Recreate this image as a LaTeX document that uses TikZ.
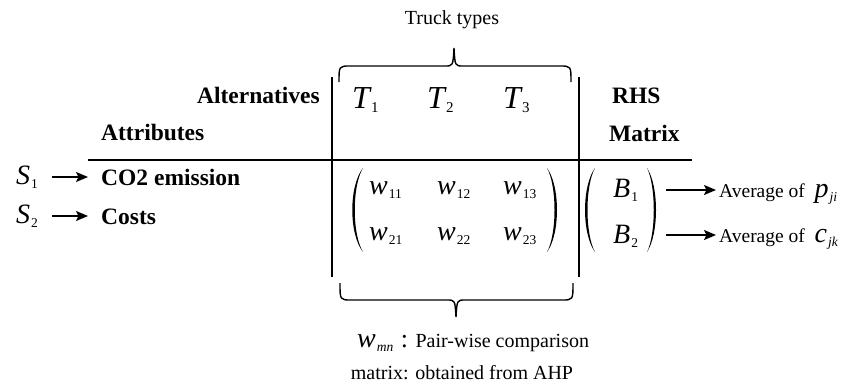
\documentclass[tikz,border=0pt]{standalone}
\usepackage{fontspec}
\setmainfont{Liberation Serif}
\usetikzlibrary{arrows.meta}
\newcommand{\fs}[1]{\fontsize{#1}{#1}\selectfont}
\newcommand{\mv}[2]{{\fs{28}\itshape #1}\kern1pt\raisebox{-4pt}{\fs{13.5}#2}}
\newcommand{\mT}[2]{{\fs{32}\itshape #1}\kern1pt\raisebox{-4pt}{\fs{15}#2}}
\begin{document}
\begin{tikzpicture}[x=1pt,y=-1pt,
  txt/.style={inner sep=0pt,font=\fs{20}},
  hd/.style={inner sep=0pt,font=\fs{23.5}\bfseries},
  mth/.style={inner sep=0pt},
  rule/.style={line width=1.8pt},
  arr/.style={line width=1.5pt,-{Stealth[length=12pt,width=10pt,inset=2.5pt]}},
  brc/.style={line width=1.4pt},
  par/.style={fill=black}]
\useasboundingbox (0,0) rectangle (862,391);
% header texts
\node[txt] (truck) at (452,20) {Truck types};
\node[hd,anchor=base east] (alt) at (320,103) {Alternatives};
\node[hd,anchor=base west] (attr) at (101,140) {Attributes};
\node[hd,anchor=base west] (rhs) at (612,103) {RHS};
\node[hd,anchor=base west] (mat) at (609,141) {Matrix};
\node[mth,anchor=base west] (t1) at (352,108) {\mT{T}{1}};
\node[mth,anchor=base west] (t2) at (427,108) {\mT{T}{2}};
\node[mth,anchor=base west] (t3) at (503,108) {\mT{T}{3}};
% rules
\draw[rule] (88,160) -- (692,160);
\draw[rule] (332,77) -- (332,277);
\draw[rule] (579,77) -- (579,277);
% top brace
\draw[brc] (339,82) .. controls (339,66) .. (350,66) -- (445,66)
  .. controls (453,66) .. (454,48) .. controls (455,66) .. (463,66)
  -- (560,66) .. controls (571,66) .. (571,82);
% bottom brace
\draw[brc] (340,283) .. controls (340,300) .. (351,300) -- (447,300)
  .. controls (455,300) .. (456,317) .. controls (457,300) .. (465,300)
  -- (562,300) .. controls (573,300) .. (573,283);
% attributes
\node[mth,anchor=base west] (s1) at (16,184) {\mv{S}{1}};
\node[mth,anchor=base west] (s2) at (16,223) {\mv{S}{2}};
\node[hd,anchor=base west] (co2) at (101,185) {CO2 emission};
\node[hd,anchor=base west] (costs) at (101,224) {Costs};
\coordinate (a1s) at (52,177); \coordinate (a1e) at (88,177);
\coordinate (a2s) at (52,216); \coordinate (a2e) at (88,216);
\draw[arr] (a1s) -- (a1e);
\draw[arr] (a2s) -- (a2e);
% w matrix
\node[mth,anchor=base west] (w11) at (369,194) {\mv{w}{11}};
\node[mth,anchor=base west] (w12) at (437,194) {\mv{w}{12}};
\node[mth,anchor=base west] (w13) at (503,194) {\mv{w}{13}};
\node[mth,anchor=base west] (w21) at (369,240) {\mv{w}{21}};
\node[mth,anchor=base west] (w22) at (437,240) {\mv{w}{22}};
\node[mth,anchor=base west] (w23) at (503,240) {\mv{w}{23}};
\fill[par] (363,168) .. controls (348.7,186) and (348.7,234) .. (363,252)
  .. controls (352,234) and (352,186) .. (363,168);
\fill[par] (547,168) .. controls (560.3,186) and (560.3,234) .. (547,252)
  .. controls (557,234) and (557,186) .. (547,168);
% B matrix
\node[mth,anchor=base west] (b1) at (613,197) {\mv{B}{1}};
\node[mth,anchor=base west] (b2) at (613,243) {\mv{B}{2}};
\fill[par] (595,168) .. controls (581.7,186) and (581.7,234) .. (595,252)
  .. controls (585,234) and (585,186) .. (595,168);
\fill[par] (647,168) .. controls (659,186) and (659,234) .. (647,252)
  .. controls (656,234) and (656,186) .. (647,168);
\node[mth,anchor=base west] (avp) at (719,197) {{\fs{19.5}Average of\ \ }\mv{p}{\itshape ji}};
\node[mth,anchor=base west] (avc) at (719,242) {{\fs{19.5}Average of\ \ }\mv{c}{\itshape jk}};
\coordinate (b1e) at (666,190); \coordinate (b2e) at (666,235);
\draw[arr] (b1e) -- ([xshift=-3pt]avp.west |- b1e);
\draw[arr] (b2e) -- ([xshift=-3pt]avc.west |- b2e);
% bottom label
\node[mth,anchor=base west] (wmn) at (357,347) {\mv{w}{\itshape mn}\ \ \ {\fs{26}:}\ \ \ {\fs{20}Pair-wise comparison}};
\node[txt,anchor=base] (obt) at (462,379) {matrix: obtained from AHP};
\end{tikzpicture}
\end{document}
